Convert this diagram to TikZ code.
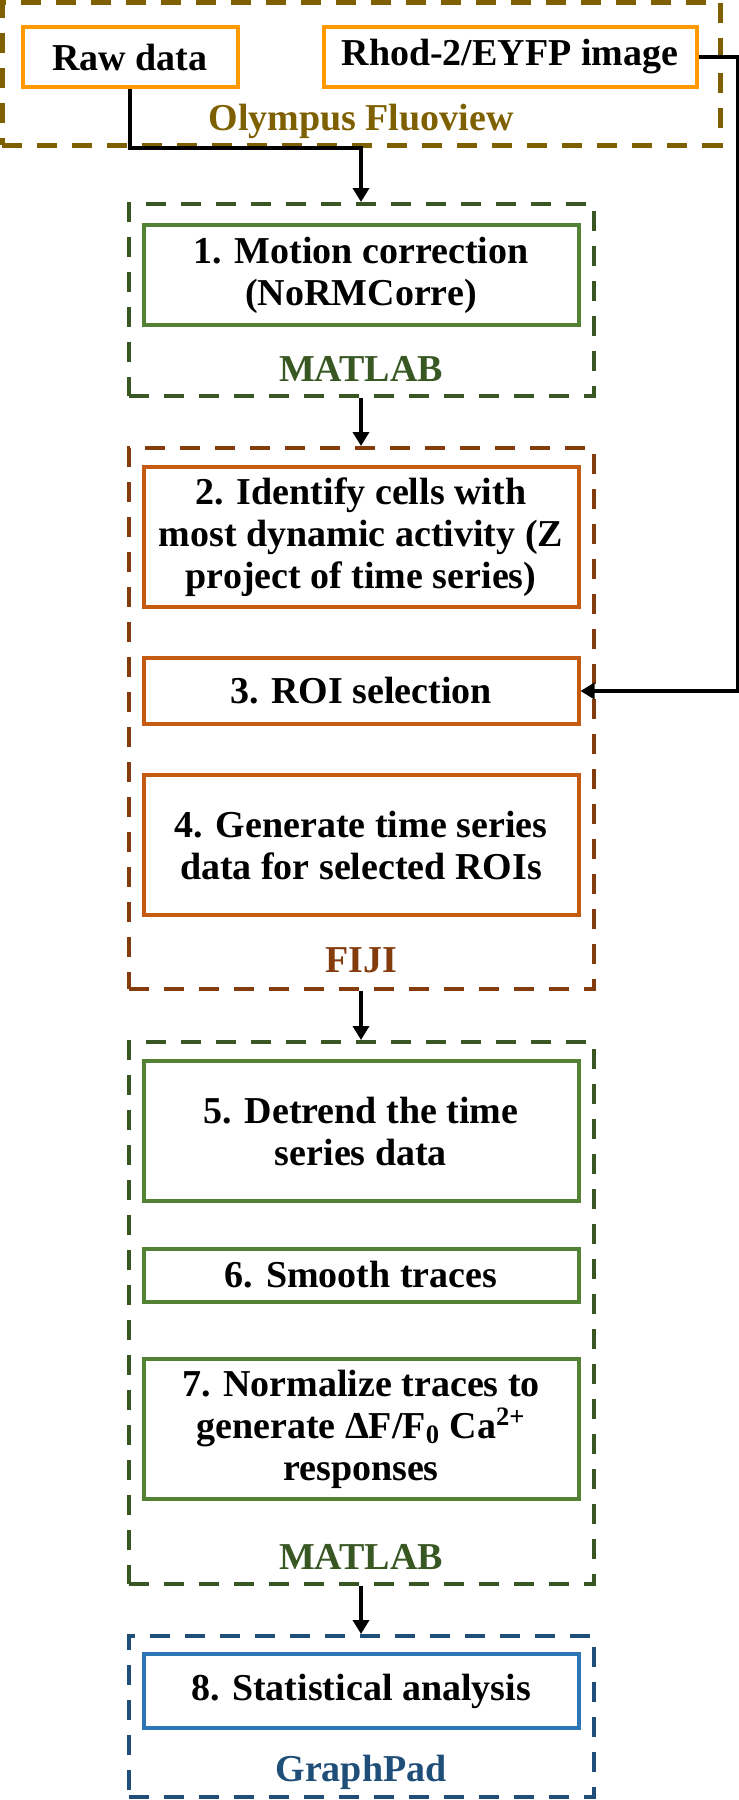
\documentclass[tikz,border=0pt]{standalone}
\usepackage{fontspec}
\setmainfont{Liberation Serif}
\usetikzlibrary{arrows.meta, positioning}

\definecolor{olyorange}{RGB}{255,153,0}
\definecolor{olygold}{RGB}{127,96,0}
\definecolor{matgreen}{RGB}{84,130,53}
\definecolor{matdark}{RGB}{56,87,35}
\definecolor{fijiorange}{RGB}{197,90,17}
\definecolor{fijibrown}{RGB}{132,60,12}
\definecolor{padblue}{RGB}{46,117,182}
\definecolor{padnavy}{RGB}{31,78,121}

\begin{document}
\begin{tikzpicture}[font=\fontsize{19}{21}\selectfont\bfseries, on grid,
    stage/.style={draw, line width=2pt, minimum width=217.5pt, align=center, inner sep=0pt},
    source/.style={draw=olyorange, line width=2pt, minimum height=30pt, inner sep=0pt},
    group/.style={draw, dash pattern=on 10pt off 7.5pt, line width=2pt, minimum width=232.5pt, inner sep=0pt},
    tool/.style={anchor=base},
    flow/.style={-{Triangle[length=7pt, width=8pt]}, line width=2pt}]
    \useasboundingbox (0,0) rectangle (369.5pt,-900pt);

    % software groups
    \node[group, draw=olygold, line width=2.5pt, minimum width=359pt, minimum height=71.5pt] (gOly) at (180.5pt,-36.75pt) {};
    \node[group, draw=matdark, minimum height=96pt] (gMat1) at (180.5pt,-150pt) {};
    \node[group, draw=fijibrown, minimum height=270.5pt] (gFiji) at (180.5pt,-359.25pt) {};
    \node[group, draw=matdark, minimum height=271pt] (gMat2) at (180.5pt,-656.5pt) {};
    \node[group, draw=padnavy, minimum height=80.5pt] (gPad) at (180.5pt,-858.25pt) {};

    \node[tool, text=olygold] (lOly) at (180.5pt,-65pt) {Olympus Fluoview};
    \node[tool, text=matdark] (lMat1) at (180.5pt,-190.5pt) {MATLAB};
    \node[tool, text=fijibrown] (lFiji) at (180.5pt,-486pt) {FIJI};
    \node[tool, text=matdark] (lMat2) at (180.5pt,-784.5pt) {MATLAB};
    \node[tool, text=padnavy] (lPad) at (180.5pt,-890.5pt) {GraphPad};

    % inputs
    \node[source, minimum width=107.5pt] (raw) at (65pt,-28.5pt) {Raw data};
    \node[source, minimum width=186.5pt] (rhod) at (255pt,-28.5pt) {Rhod-2/EYFP image};

    % pipeline steps
    \node[stage, draw=matgreen, minimum height=50pt] (motion) at (180.5pt,-137.5pt) {1. Motion correction\\(NoRMCorre)};
    \node[stage, draw=fijiorange, minimum height=70pt] (cells) [below=131pt of motion] {2. Identify cells with\\most dynamic activity (Z\\project of time series)};
    \node[stage, draw=fijiorange, minimum height=33pt] (roi) [below=77pt of cells] {3. ROI selection};
    \node[stage, draw=fijiorange, minimum height=70pt] (series) [below=77pt of roi] {4. Generate time series\\data for selected ROIs};
    \node[stage, draw=matgreen, minimum height=70pt] (detrend) [below=143pt of series] {5. Detrend the time\\series data};
    \node[stage, draw=matgreen, minimum height=26.5pt] (smooth) [below=72pt of detrend] {6. Smooth traces};
    \node[stage, draw=matgreen, minimum height=70pt] (norm) [below=77pt of smooth] {7. Normalize traces to\\generate ΔF/F\textsubscript{0} Ca\textsuperscript{2+}\\responses};
    \node[stage, draw=padblue, minimum height=37pt] (stats) [below=131pt of norm] {8. Statistical analysis};

    \draw[flow] (raw.south) |- (gOly.south) -- (gMat1.north);
    \draw[flow] (rhod.east) -- ++(19.5pt,0) |- (roi.east);
    \draw[flow] (gMat1.south) -- (gFiji.north);
    \draw[flow] (gFiji.south) -- (gMat2.north);
    \draw[flow] (gMat2.south) -- (gPad.north);
\end{tikzpicture}
\end{document}
